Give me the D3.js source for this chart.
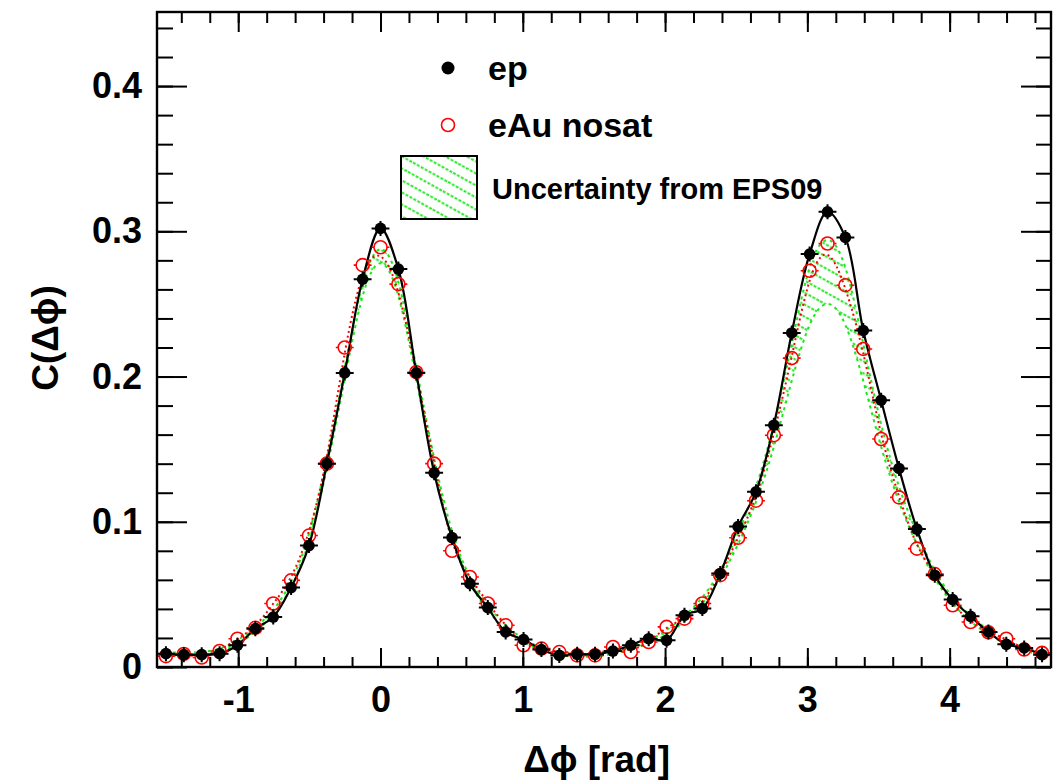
<!DOCTYPE html>
<html>
<head>
<meta charset="utf-8">
<script src="https://cdn.jsdelivr.net/npm/d3@7"></script>
<style>
  body { margin: 0; background: #fff; }
  svg { display: block; font-family: "Liberation Sans", Arial, sans-serif; font-weight: bold; }
</style>
</head>
<body>
<div id="chart"></div>
<script>
// 50 bins in delta phi, from -pi/2 to 3pi/2
const nBins = 50;
const binWidth = (2 * Math.PI) / nBins;
const binCenters = d3.range(nBins).map((i) => -Math.PI / 2 + (i + 0.5) * binWidth);

const epValues = [
  0.0092, 0.0085, 0.0085, 0.0092, 0.0150, 0.0264, 0.0344, 0.0547, 0.0836, 0.1400,
  0.2025, 0.2670, 0.3020, 0.2740, 0.2025, 0.1337, 0.0891, 0.0574, 0.0409, 0.0241,
  0.0189, 0.0120, 0.0080, 0.0087, 0.0087, 0.0110, 0.0150, 0.0195, 0.0184, 0.0356,
  0.0402, 0.0643, 0.0967, 0.1206, 0.1665, 0.2300, 0.2843, 0.3134, 0.2958, 0.2317,
  0.1837, 0.1367, 0.0950, 0.0632, 0.0464, 0.0349, 0.0241, 0.0156, 0.0131, 0.0085,
];

const eAuValues = [
  0.0075, 0.0090, 0.0065, 0.0110, 0.0195, 0.0270, 0.0437, 0.0597, 0.0905, 0.1400,
  0.2200, 0.2767, 0.2890, 0.2636, 0.2030, 0.1400, 0.0800, 0.0620, 0.0437, 0.0287,
  0.0150, 0.0127, 0.0103, 0.0080, 0.0080, 0.0138, 0.0103, 0.0172, 0.0276, 0.0333,
  0.0437, 0.0632, 0.0890, 0.1145, 0.1596, 0.2127, 0.2728, 0.2916, 0.2629, 0.2190,
  0.1570, 0.1168, 0.0815, 0.0640, 0.0425, 0.0310, 0.0239, 0.0195, 0.0120, 0.0097,
];

// EPS09 uncertainty band
const bandLow = [
  0.008, 0.008, 0.008, 0.010, 0.015, 0.024, 0.035, 0.053, 0.083, 0.135,
  0.198, 0.262, 0.286, 0.262, 0.198, 0.135, 0.085, 0.056, 0.038, 0.025,
  0.017, 0.011, 0.008, 0.007, 0.007, 0.009, 0.012, 0.016, 0.022, 0.031,
  0.043, 0.060, 0.084, 0.112, 0.150, 0.198, 0.240, 0.255, 0.240, 0.198,
  0.150, 0.112, 0.084, 0.060, 0.043, 0.031, 0.022, 0.016, 0.011, 0.008,
];
const bandHigh = [
  0.010, 0.010, 0.010, 0.012, 0.018, 0.027, 0.038, 0.057, 0.088, 0.142,
  0.206, 0.270, 0.296, 0.272, 0.206, 0.142, 0.090, 0.060, 0.042, 0.028,
  0.019, 0.013, 0.010, 0.009, 0.009, 0.011, 0.014, 0.018, 0.025, 0.035,
  0.047, 0.065, 0.092, 0.122, 0.165, 0.222, 0.282, 0.300, 0.282, 0.222,
  0.165, 0.122, 0.092, 0.065, 0.047, 0.035, 0.025, 0.018, 0.013, 0.010,
];

const xMajorTicks = [-1, 0, 1, 2, 3, 4];
const xMinorTicks = d3.range(-7, 24).map((k) => k * 0.2).filter((v) => v > -Math.PI / 2);
const yMajorTicks = [0, 0.1, 0.2, 0.3, 0.4];
const yMinorTicks = d3.range(0, 23).map((k) => k * 0.02);

const legendItems = ["ep", "eAu nosat", "Uncertainty from EPS09"];

// Set up dimensions
const W = 1058, H = 780;
const margin = { top: 12, right: 7, bottom: 113, left: 157 };
const width = W - margin.left - margin.right;
const height = H - margin.top - margin.bottom;

const svg = d3.select("#chart").append("svg").attr("width", W).attr("height", H);

const defs = svg.append("defs");
defs.append("clipPath").attr("id", "plotClip")
  .append("rect").attr("width", width).attr("height", height);

const hatch = defs.append("pattern")
  .attr("id", "hatch")
  .attr("patternUnits", "userSpaceOnUse")
  .attr("width", 40).attr("height", 10.5)
  .attr("patternTransform", "rotate(29)");
hatch.append("line")
  .attr("x1", 0).attr("x2", 40).attr("y1", 5).attr("y2", 5)
  .attr("stroke", "#1ee61e").attr("stroke-width", 2)
  .attr("stroke-dasharray", "3,1.5");

const g = svg.append("g").attr("transform", `translate(${margin.left},${margin.top})`);

// Scales
const x = d3.scaleLinear().domain([-Math.PI / 2, (3 * Math.PI) / 2]).range([0, width]);
const y = d3.scaleLinear().domain([0, 0.451]).range([height, 0]);

const plot = g.append("g").attr("clip-path", "url(#plotClip)");

// Band
const bandArea = d3.area()
  .x((d, i) => x(binCenters[i]))
  .y0((d, i) => y(bandLow[i]))
  .y1((d, i) => y(bandHigh[i]))
  .curve(d3.curveBasis);
plot.append("path").datum(bandLow).attr("d", bandArea).attr("fill", "url(#hatch)");

const bandLine = (arr) => d3.line()
  .x((d, i) => x(binCenters[i]))
  .y((d) => y(d))
  .curve(d3.curveBasis)(arr);
[bandLow, bandHigh].forEach((arr) => {
  plot.append("path").attr("d", bandLine(arr))
    .attr("fill", "none").attr("stroke", "#1ee61e")
    .attr("stroke-width", 2).attr("stroke-dasharray", "3,4");
});

// eAu dotted line
plot.append("path")
  .attr("d", d3.line().x((d, i) => x(binCenters[i])).y((d) => y(d)).curve(d3.curveBasis)(eAuValues))
  .attr("fill", "none").attr("stroke", "#ff0000")
  .attr("stroke-width", 2).attr("stroke-dasharray", "2,3");

// ep solid line
plot.append("path")
  .attr("d", d3.line().x((d, i) => x(binCenters[i])).y((d) => y(d)).curve(d3.curveCatmullRom)(epValues))
  .attr("fill", "none").attr("stroke", "#000").attr("stroke-width", 2.2);

const halfBin = (x(binWidth) - x(0)) / 2;

// eAu markers
const eAuMarks = plot.selectAll(".eau").data(eAuValues).enter().append("g")
  .attr("class", "eau")
  .attr("transform", (d, i) => `translate(${x(binCenters[i])},${y(d)})`);
eAuMarks.append("path")
  .attr("d", `M${-halfBin},0H-6.5M6.5,0H${halfBin}`)
  .attr("stroke", "#ff0000").attr("stroke-width", 1.6);
eAuMarks.append("circle").attr("r", 6.5)
  .attr("fill", "none").attr("stroke", "#ff0000").attr("stroke-width", 1.6);

// ep markers
const epMarks = plot.selectAll(".ep").data(epValues).enter().append("g")
  .attr("class", "ep")
  .attr("transform", (d, i) => `translate(${x(binCenters[i])},${y(d)})`);
epMarks.append("path")
  .attr("d", `M${-halfBin},0H${halfBin}M0,-7.5V7.5`)
  .attr("stroke", "#000").attr("stroke-width", 2);
epMarks.append("circle").attr("r", 5.8).attr("fill", "#000");

// Axes
const fontSize = 36;
function styleAxis(sel) {
  sel.select(".domain").remove();
  sel.selectAll("line").attr("stroke", "#000").attr("stroke-width", 2);
  sel.selectAll("text").attr("fill", "#000").style("font-size", fontSize + "px")
    .style("font-weight", "bold").style("font-family", "'Liberation Sans', Arial, sans-serif");
}

g.append("g").attr("transform", `translate(0,${height})`)
  .call(d3.axisBottom(x).tickValues(xMinorTicks).tickSize(-10).tickFormat(""))
  .call(styleAxis);
g.append("g").attr("transform", `translate(0,${height})`)
  .call(d3.axisBottom(x).tickValues(xMajorTicks).tickSize(-19).tickPadding(19).tickFormat((d) => String(d)))
  .call(styleAxis);
g.append("g")
  .call(d3.axisTop(x).tickValues(xMinorTicks).tickSize(-11).tickFormat(""))
  .call(styleAxis);
g.append("g")
  .call(d3.axisTop(x).tickValues(xMajorTicks).tickSize(-20).tickFormat(""))
  .call(styleAxis);

g.append("g")
  .call(d3.axisLeft(y).tickValues(yMinorTicks).tickSize(-16).tickFormat(""))
  .call(styleAxis);
g.append("g")
  .call(d3.axisLeft(y).tickValues(yMajorTicks).tickSize(-30).tickPadding(15)
    .tickFormat((d) => (d === 0 ? "0" : d3.format(".1f")(d))))
  .call(styleAxis);
g.append("g").attr("transform", `translate(${width},0)`)
  .call(d3.axisRight(y).tickValues(yMinorTicks).tickSize(-15).tickFormat(""))
  .call(styleAxis);
g.append("g").attr("transform", `translate(${width},0)`)
  .call(d3.axisRight(y).tickValues(yMajorTicks).tickSize(-30).tickFormat(""))
  .call(styleAxis);

// Frame
g.append("rect").attr("width", width).attr("height", height)
  .attr("fill", "none").attr("stroke", "#000").attr("stroke-width", 2.4);

// Axis titles
svg.append("text")
  .attr("x", 670).attr("y", 772)
  .attr("text-anchor", "end")
  .style("font-size", "37px")
  .text("Δϕ [rad]");

svg.append("text")
  .attr("transform", "translate(58,338) rotate(-90)")
  .attr("text-anchor", "middle")
  .style("font-size", "37px")
  .text("C(Δϕ)");

// Legend
const legend = svg.append("g");
legend.append("circle").attr("cx", 448).attr("cy", 68).attr("r", 6.5).attr("fill", "#000");
legend.append("circle").attr("cx", 448).attr("cy", 125).attr("r", 6.5)
  .attr("fill", "none").attr("stroke", "#ff0000").attr("stroke-width", 1.6);
legend.append("rect").attr("x", 401).attr("y", 156).attr("width", 76).attr("height", 63)
  .attr("fill", "url(#hatch)").attr("stroke", "#000").attr("stroke-width", 2);

legend.append("text").attr("x", 488).attr("y", 80).style("font-size", "34px").text(legendItems[0]);
legend.append("text").attr("x", 488).attr("y", 137).style("font-size", "34px").text(legendItems[1]);
legend.append("text").attr("x", 492).attr("y", 199).style("font-size", "29px").text(legendItems[2]);
</script>
</body>
</html>
